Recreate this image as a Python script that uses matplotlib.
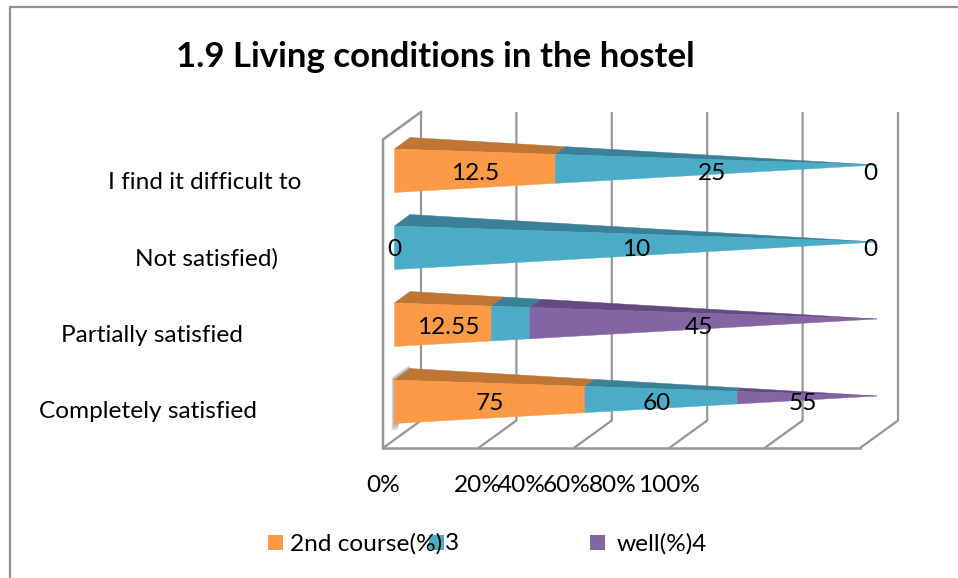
import matplotlib
matplotlib.use("Agg")
import matplotlib.pyplot as plt
from matplotlib.patches import Polygon, Rectangle

# ---- data (bottom row first) ----
categories = ["Completely satisfied", "Partially satisfied", "Not satisfied)", "I find it difficult to"]
series_names = ["2nd course(%)", "3", "well(%)4"]
course2 = [75, 12.55, 0, 12.5]
col3 = [60, 5, 10, 25]
well4 = [55, 45, 0, 0]
labels_course2 = ["75", "12.55", "0", "12.5"]
labels_col3 = ["60", "", "10", "25"]
labels_well4 = ["55", "45", "0", "0"]
tick_values = [0, 20, 40, 60, 80, 100]
tick_labels = ["0%", "20%", "40%", "60%", "80%", "100%"]
title = "1.9 Living conditions in the hostel"

face_colors = ["#FD9A47", "#4BACC6", "#8265A2"]
top_colors = ["#BF7533", "#3B8099", "#634A80"]
GRID = "#979797"
W, H = 958, 578
FS = 17.6

plt.rcParams["font.family"] = ["Lato", "DejaVu Sans"]
fig = plt.figure(figsize=(W / 100, H / 100), dpi=100)
ax = fig.add_axes([0, 0, 1, 1])
ax.axis("off")

# scales: x in percent on the front floor edge, y in category rows
PXX = 4.77      # px per percent
X0 = 383        # px of 0%
PXY = 77        # px per row
Y0 = 396        # px of row 0 apex
ax.set_xlim(-X0 / PXX, (W - X0) / PXX)
ax.set_ylim((Y0 - H) / PXY, Y0 / PXY)
dx = lambda p: p / PXX
dy = lambda p: p / PXY
fx = lambda px: (px - X0) / PXX
fy = lambda py: (Y0 - py) / PXY

# frame: only the top and left edges fall inside the picture
ax.plot([fx(9.5), fx(9.5), fx(958)], [fy(578), fy(6.5), fy(6.5)], color="#8f8f8f", lw=1.6, zorder=0)

# 3D walls
depth_x, depth_y = dx(38), dy(27.5)
floor_y = fy(448)
wall_top = fy(112)
for v in tick_values:
    ax.plot([v, v + depth_x, v + depth_x], [floor_y, floor_y + depth_y, wall_top],
            color=GRID, lw=1.6, zorder=1, solid_capstyle="butt")
ax.plot([0, 100], [floor_y, floor_y], color=GRID, lw=1.8, zorder=1)
ax.plot([0, 0, depth_x], [floor_y, wall_top - depth_y, wall_top], color=GRID, lw=1.8, zorder=1)

# cones
BAR_X0 = dx(11.5)
BAR_LEN = 482.5 / PXX
half_top, half_bot = dy(16), dy(27.5)
back_dx, back_dy = dx(15.5), dy(11.5)


def lerp(a, b, t):
    return a + (b - a) * t


# soft shadow at the base of the lowest cone
for k in range(1, 6):
    off = dx(k * 0.6)
    up = dy(k * 1.0)
    ax.fill([BAR_X0 + dx(3), BAR_X0 - off, BAR_X0 - off, BAR_X0 + back_dx - off * 0.5,
             BAR_X0 + back_dx + dx(3)],
            [-half_bot - dy(k * 1.4), -half_bot - dy(k * 1.4), half_top + up * 0.6,
             half_top + back_dy + up * 0.6, half_top + back_dy - dy(2)],
            color="#7a7a7a", alpha=0.16, lw=0, zorder=2)

series = [course2, col3, well4]
label_sets = [labels_course2, labels_col3, labels_well4]
for row in range(len(categories)):
    total = sum(s[row] for s in series)
    cum = 0.0
    for s, labs, fc, tc in zip(series, label_sets, face_colors, top_colors):
        a, b = cum / total, (cum + s[row]) / total
        cum += s[row]
        xa, xb = BAR_X0 + a * BAR_LEN, BAR_X0 + b * BAR_LEN
        apex = BAR_X0 + BAR_LEN
        if s[row] > 0:
            # top (depth) surface
            bx0 = BAR_X0 + back_dx
            xa2, xb2 = lerp(bx0, apex, a), lerp(bx0, apex, b)
            ax.add_patch(Polygon([(xa, row + lerp(half_top, 0, a)), (xb, row + lerp(half_top, 0, b)),
                                  (xb2, row + lerp(half_top + back_dy, 0, b)),
                                  (xa2, row + lerp(half_top + back_dy, 0, a))],
                                 fc=tc, ec=tc, lw=0.3, zorder=3))
            # front surface
            ax.add_patch(Polygon([(xa, row + lerp(half_top, 0, a)), (xb, row + lerp(half_top, 0, b)),
                                  (xb, row - lerp(half_bot, 0, b)), (xa, row - lerp(half_bot, 0, a))],
                                 fc=fc, ec=fc, lw=0.3, zorder=4))
        if labs[row]:
            xm = (xa + xb) / 2
            if a >= 1:
                xm -= dx(7)
            elif a > 0 and b < 1 or b >= 1 and a > 0.2:
                xm -= dx(4)
            elif row == 1 and a == 0:
                xm += dx(5)
            ax.text(xm, row - dy(8), labs[row], ha="center", va="center",
                    fontsize=FS, color="black", zorder=6)

# category labels
cat_px = [(148, 411), (152, 335), (206.5, 259), (204.5, 182)]
for name, (px, py) in zip(categories, cat_px):
    ax.text(fx(px), fy(py), name, ha="center", va="center", fontsize=FS, color="black")

# x tick labels
tick_px = [383, 478, 522, 567, 613, 669]
for lab, px in zip(tick_labels, tick_px):
    ax.text(fx(px), fy(485), lab, ha="center", va="center", fontsize=FS, color="black")

# title
ax.text(fx(435.5), fy(57), title, ha="center", va="center",
        fontsize=25, fontweight="bold", color="black")

# legend
leg_y = fy(550)
for px, fc in zip([268, 429, 590], face_colors):
    ax.add_patch(Rectangle((fx(px), leg_y), dx(15), dy(15), fc=fc, ec="none", zorder=2))
for px, name in zip([290, 444.5, 617], series_names):
    ax.text(fx(px), fy(544), name, ha="left", va="center",
            fontsize=FS, color="black", zorder=3)

fig.savefig("out.png", dpi=100)
